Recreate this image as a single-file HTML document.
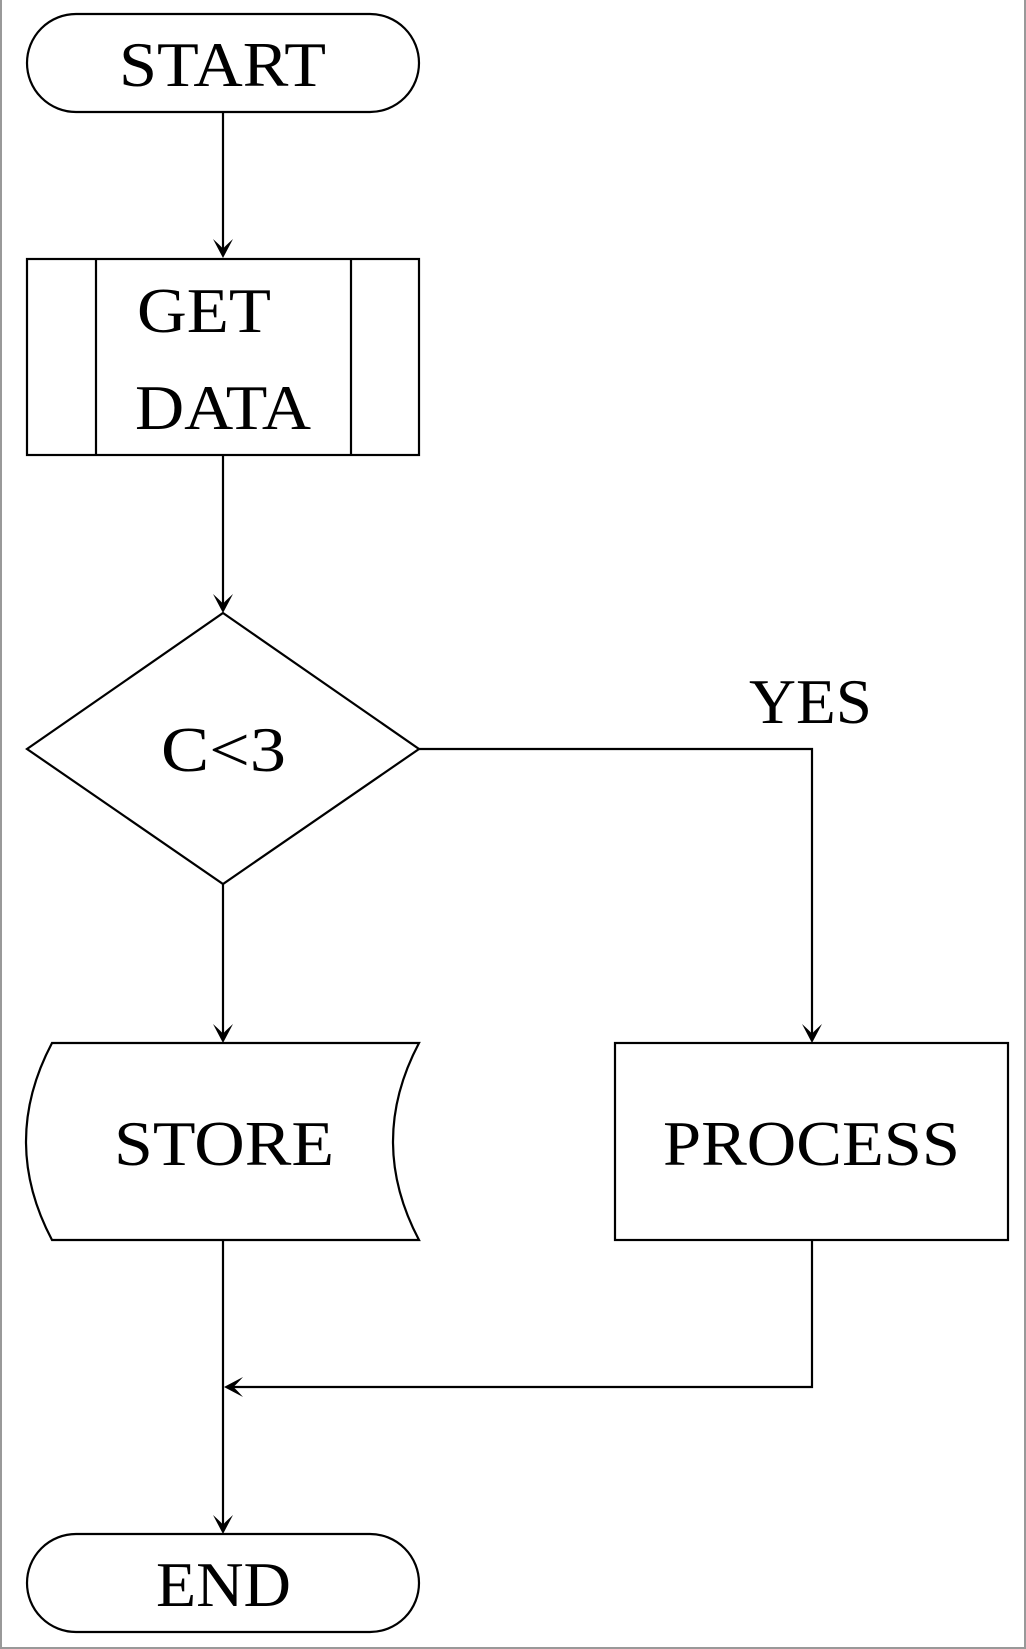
<!DOCTYPE html>
<html><head><meta charset="utf-8"><style>
html,body{margin:0;padding:0;background:#fff}
svg{display:block}
text{font-family:"Liberation Serif",serif;font-size:64px;fill:#000}
</style></head><body>
<svg width="1026" height="1649" viewBox="0 0 1026 1649" xmlns="http://www.w3.org/2000/svg">
<defs>
<path id="ah" d="M0,0 L-10,-19 Q0,-10 0,-9 Q0,-10 10,-19 Z" fill="#000"/>
</defs>
<rect x="0" y="0" width="1026" height="1649" fill="#fff"/>
<line x1="1" y1="0" x2="1" y2="1649" stroke="#999" stroke-width="2"/>
<line x1="1025" y1="0" x2="1025" y2="1649" stroke="#999" stroke-width="2"/>
<line x1="0" y1="1648" x2="1026" y2="1648" stroke="#999" stroke-width="2"/>
<g fill="none" stroke="#000" stroke-width="2.2">
<rect x="27" y="14" width="392" height="98" rx="49" ry="49"/>
<rect x="27" y="259" width="392" height="196"/>
<line x1="96" y1="259" x2="96" y2="455"/>
<line x1="351" y1="259" x2="351" y2="455"/>
<polygon points="223,613 419,749 223,884 27,749"/>
<path d="M52,1043 L419,1043 Q367,1141.5 419,1240 L52,1240 Q0,1141.5 52,1043 Z"/>
<rect x="615" y="1043" width="393" height="197"/>
<rect x="27" y="1534" width="392" height="98" rx="49" ry="49"/>
<line x1="223" y1="112" x2="223" y2="250"/>
<line x1="223" y1="455" x2="223" y2="606"/>
<line x1="223" y1="884" x2="223" y2="1036"/>
<polyline points="419,749 812,749 812,1036"/>
<line x1="223" y1="1240" x2="223" y2="1527"/>
<polyline points="812,1240 812,1387 230,1387"/>
</g>
<use href="#ah" transform="translate(223,258)"/>
<use href="#ah" transform="translate(223,613)"/>
<use href="#ah" transform="translate(223,1043)"/>
<use href="#ah" transform="translate(812,1043)"/>
<use href="#ah" transform="translate(223,1534)"/>
<use href="#ah" transform="translate(224,1387) rotate(90)"/>
<text x="119" y="86" textLength="207" lengthAdjust="spacingAndGlyphs">START</text>
<text x="137" y="332" textLength="134" lengthAdjust="spacingAndGlyphs">GET</text>
<text x="135" y="429" textLength="176" lengthAdjust="spacingAndGlyphs">DATA</text>
<text x="161" y="771" textLength="125" lengthAdjust="spacingAndGlyphs">C&lt;3</text>
<text x="749" y="723" textLength="123" lengthAdjust="spacingAndGlyphs">YES</text>
<text x="114" y="1165" textLength="220" lengthAdjust="spacingAndGlyphs">STORE</text>
<text x="663" y="1165" textLength="297" lengthAdjust="spacingAndGlyphs">PROCESS</text>
<text x="156" y="1606" textLength="135" lengthAdjust="spacingAndGlyphs">END</text>
</svg>
</body></html>
